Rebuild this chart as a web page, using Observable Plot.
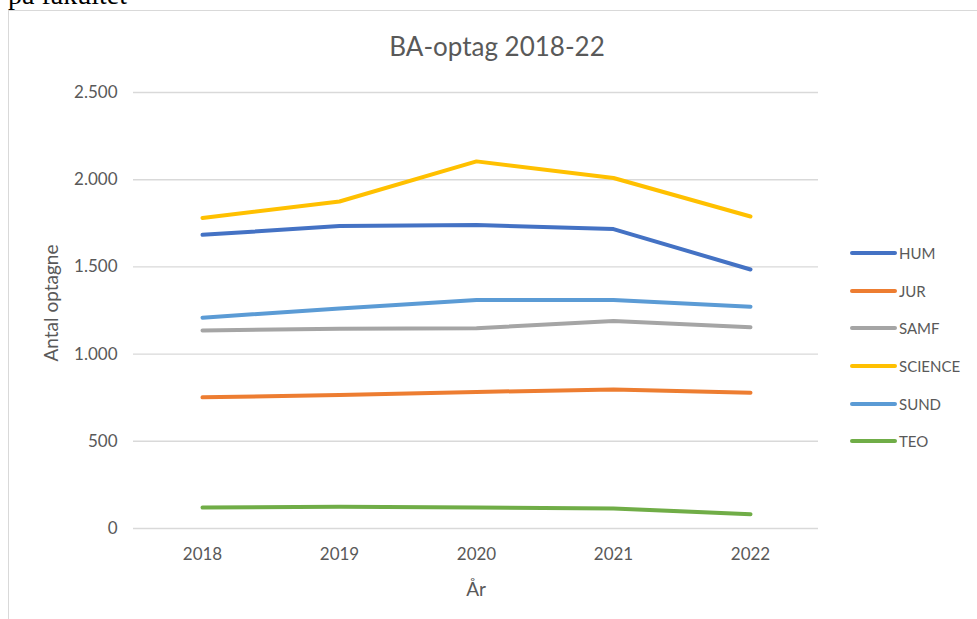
<!DOCTYPE html>
<html>
<head>
<meta charset="utf-8">
<script src="https://cdn.jsdelivr.net/npm/d3@7"></script>
<script src="https://cdn.jsdelivr.net/npm/@observablehq/plot@0.6"></script>
<style>
  html, body { margin: 0; padding: 0; background: #fff; }
  body { width: 977px; height: 619px; position: relative; overflow: hidden; font-family: Lato, "Open Sans", sans-serif; }
  #chart { position: absolute; left: 0; top: 0; }
  .abs { position: absolute; white-space: nowrap; color: #595959; }
  #border { position: absolute; left: 8px; top: 10px; width: 980px; height: 620px; border-left: 1.5px solid #d9d9d9; border-top: 1.5px solid #d9d9d9; }
  #doc { position: absolute; left: 8px; top: -19px; line-height: 28px; font-family: "Liberation Serif", serif; font-size: 28px; color: #000; white-space: nowrap; }
  #title { left: 0; width: 994px; text-align: center; top: 30px; font-size: 26px; }
  #ytitle { left: 50px; top: 303px; font-size: 19px; transform: translate(-50%, -50%) rotate(-90deg); }
  #xtitle { left: 476px; top: 588px; font-size: 19px; transform: translate(-50%, -50%); }
  .leg { position: absolute; left: 850px; height: 20px; font-size: 15px; color: #595959; display: flex; align-items: center; }
  .leg .sw { width: 47px; height: 4px; border-radius: 2px; margin-right: 2px; }
</style>
</head>
<body>
<div id="doc">på fakultet</div>
<div id="border"></div>
<div id="chart"></div>
<div id="title" class="abs">BA-optag 2018-22</div>
<div id="ytitle" class="abs">Antal optagne</div>
<div id="xtitle" class="abs">År</div>
<div id="legend"></div>
<script>
const years = ["2018", "2019", "2020", "2021", "2022"];
const faculties = ["HUM", "JUR", "SAMF", "SCIENCE", "SUND", "TEO"];
const colors = ["#4472C4", "#ED7D31", "#A5A5A5", "#FFC000", "#5B9BD5", "#70AD47"];
const HUM = [1684, 1734, 1740, 1717, 1485];
const JUR = [752, 765, 783, 797, 778];
const SAMF = [1135, 1146, 1148, 1190, 1154];
const SCIENCE = [1781, 1875, 2105, 2010, 1789];
const SUND = [1209, 1262, 1310, 1310, 1272];
const TEO = [120, 125, 120, 115, 82];
const yTicks = [0, 500, 1000, 1500, 2000, 2500];

const series = {HUM, JUR, SAMF, SCIENCE, SUND, TEO};
const rows = faculties.flatMap(f => years.map((y, i) => ({faculty: f, year: y, value: series[f][i]})));

const fmt = d3.formatLocale({decimal: ",", thousands: ".", grouping: [3], currency: ["", ""]}).format(",");

const chart = Plot.plot({
  width: 977,
  height: 619,
  marginLeft: 133,
  marginRight: 159,
  marginTop: 92,
  marginBottom: 91,
  style: {fontFamily: "Lato, 'Open Sans', sans-serif", fontSize: "17px", color: "#595959", background: "transparent"},
  x: {type: "point", domain: years, padding: 0.5},
  y: {domain: [0, 2500]},
  color: {domain: faculties, range: colors},
  marks: [
    Plot.ruleY(yTicks, {stroke: "#d9d9d9", strokeWidth: 1.4}),
    Plot.axisY({ticks: yTicks, tickFormat: fmt, tickSize: 0, tickPadding: 16, label: null, fill: "#595959"}),
    Plot.axisX({tickSize: 0, tickPadding: 19, label: null, fill: "#595959"}),
    Plot.line(rows, {x: "year", y: "value", z: "faculty", stroke: "faculty", strokeWidth: 4, strokeLinecap: "round", strokeLinejoin: "round"})
  ]
});
document.getElementById("chart").appendChild(chart);

const legendY = [253, 291, 328, 366, 404, 441];
const legend = document.getElementById("legend");
faculties.forEach((f, i) => {
  const d = document.createElement("div");
  d.className = "leg";
  d.style.top = (legendY[i] - 10) + "px";
  d.innerHTML = `<span class="sw" style="background:${colors[i]}"></span><span>${f}</span>`;
  legend.appendChild(d);
});
</script>
</body>
</html>
